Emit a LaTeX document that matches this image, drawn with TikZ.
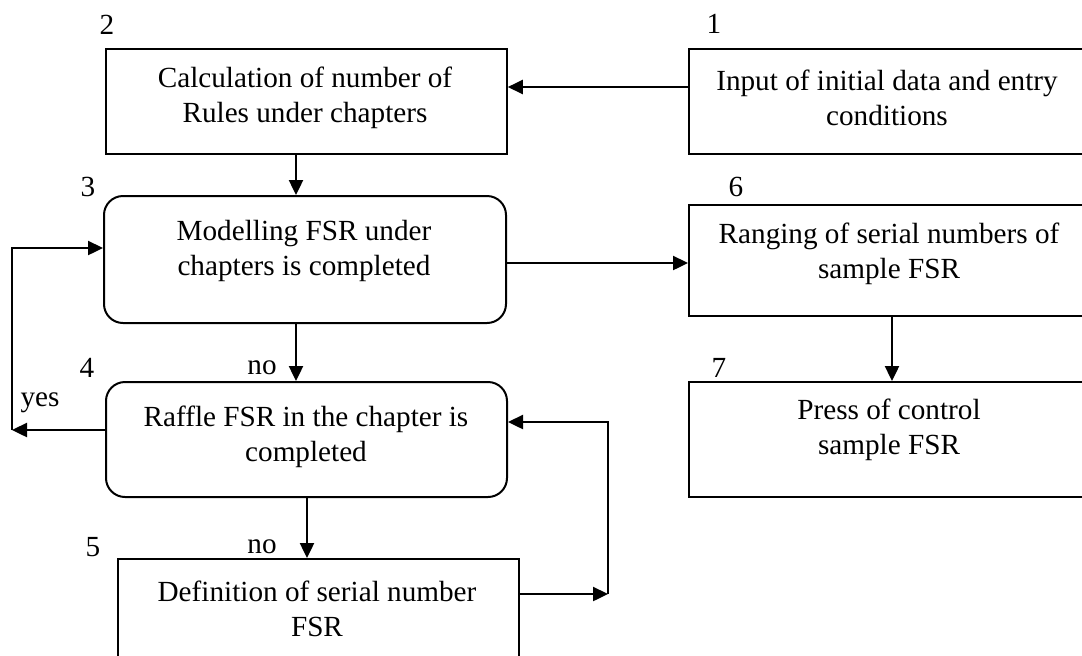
\documentclass[tikz,border=0pt]{standalone}
\usepackage{fontspec}
\setmainfont{Liberation Serif}
\usetikzlibrary{arrows.meta}
\begin{document}
\begin{tikzpicture}[x=0.5pt,y=-0.5pt,
  txt/.style={align=center, inner sep=0pt, font=\fontsize{14.6}{17.5}\selectfont},
  lbl/.style={inner sep=0pt, font=\fontsize{14.6}{17.5}\selectfont},
  rbox/.style={draw, line width=0.9pt, anchor=north west, inner sep=0pt},
  rndbox/.style={rbox, line width=1pt, rounded corners=9.5pt},
  arr/.style={line width=1.2pt, -{Triangle[length=7.5pt,width=7pt]}}]
\useasboundingbox (0,0) rectangle (1082,655);
\clip (0,0) rectangle (1082,655);
% boxes
\node[rbox, minimum width=202pt, minimum height=52.5pt] (b1) at (688,48) {};
\node[rbox, minimum width=200.5pt, minimum height=52.5pt] (b2) at (105,48) {};
\node[rndbox, minimum width=201pt, minimum height=63.5pt] (b3) at (103,195) {};
\node[rndbox, minimum width=200.5pt, minimum height=57.5pt] (b4) at (105,381) {};
\node[rbox, minimum width=200.5pt, minimum height=61pt] (b5) at (117,558) {};
\node[rbox, minimum width=202pt, minimum height=55.5pt] (b6) at (688,204) {};
\node[rbox, minimum width=202pt, minimum height=57.5pt] (b7) at (688,381) {};
% texts
\node[txt] (t1) at (887,97.5) {Input of initial data and entry\\conditions};
\node[txt] (t2) at (305,97.5) {Calculation of number of\\Rules under chapters};
\node[txt] (t3) at (304,251) {Modelling FSR under\\chapters is completed};
\node[txt] (t4) at (306,437) {Raffle FSR in the chapter is\\completed};
\node[txt] (t5) at (317,609) {Definition of serial number\\FSR};
\node[txt] (t6) at (889,254) {Ranging of serial numbers of\\sample FSR};
\node[txt] (t7) at (889,430) {Press of control\\sample FSR};
% number labels
\node[lbl] (n1) at (714,24) {1};
\node[lbl] (n2) at (107,25) {2};
\node[lbl] (n3) at (88,187) {3};
\node[lbl] (n4) at (87,368) {4};
\node[lbl] (n5) at (93,547) {5};
\node[lbl] (n6) at (736,187) {6};
\node[lbl] (n7) at (719,368) {7};
\node[lbl] (yes) at (40,403) {yes};
\node[lbl] (no1) at (262,368) {no};
\node[lbl] (no2) at (262,547) {no};
% helper coordinates
\coordinate (cy) at (12,430);
\coordinate (cr) at (608,594);
% connectors
\draw[arr] (b1.west |- 0,87) -- (b2.east |- 0,87);
\draw[arr] (b2.south -| 296,0) -- (b3.north -| 296,0);
\draw[arr] (b3.east |- 0,263) -- (b6.west |- 0,263);
\draw[arr] (b6.south -| 892,0) -- (b7.north -| 892,0);
\draw[arr] (b3.south -| 296,0) -- (b4.north -| 296,0);
\draw[arr] (b4.south -| 307,0) -- (b5.north -| 307,0);
\draw[arr] (b4.west |- cy) -- (cy);
\draw[arr] (cy) -- (cy |- 0,248) -- (b3.west |- 0,248);
\draw[arr] (b5.east |- cr) -- (cr);
\draw[arr] (cr) -- (cr |- 0,422) -- (b4.east |- 0,422);
\end{tikzpicture}
\end{document}
